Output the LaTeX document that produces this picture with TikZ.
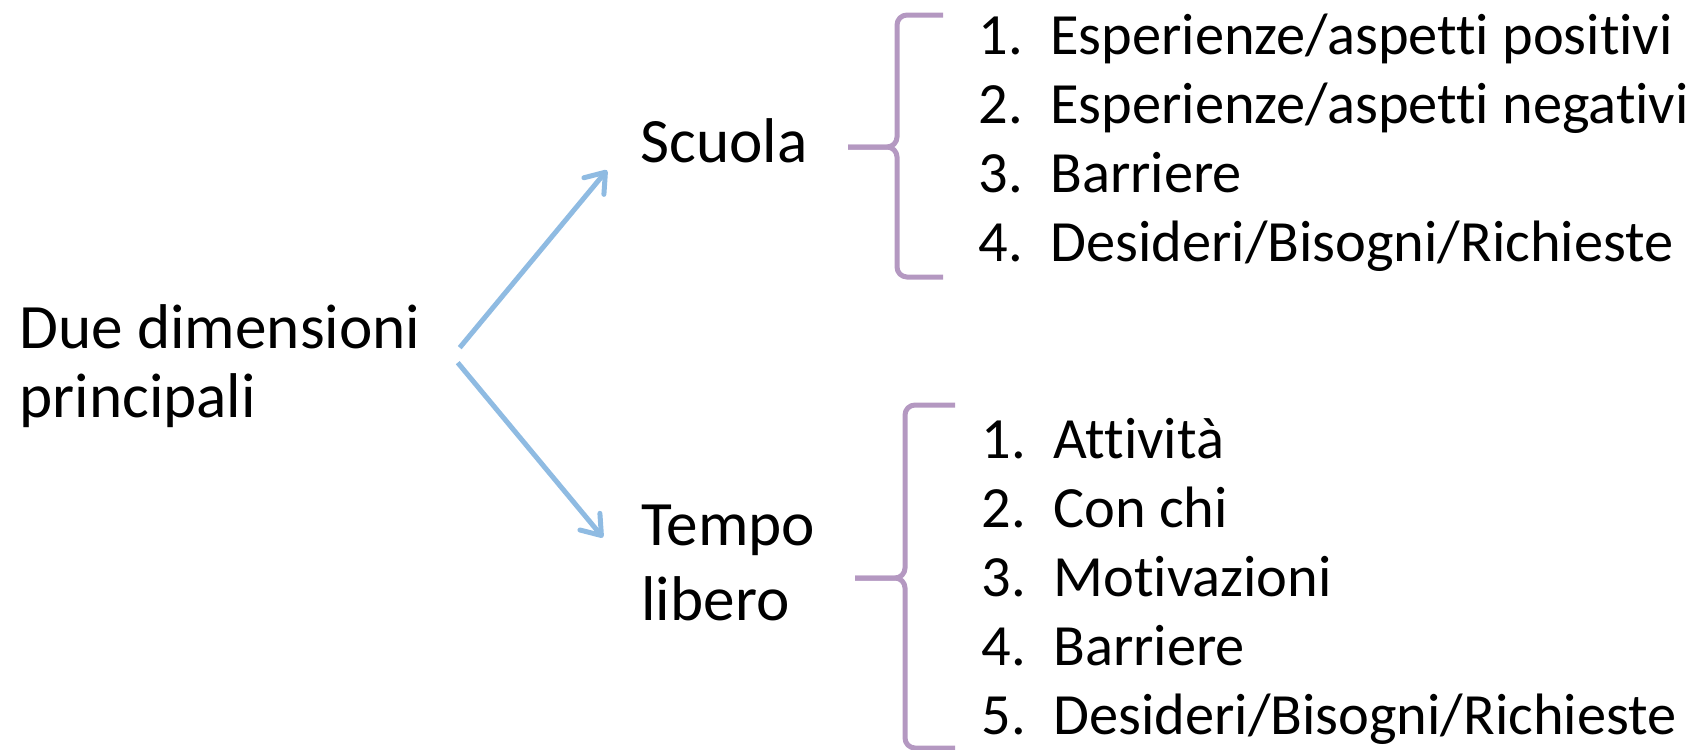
\documentclass[tikz,border=0pt]{standalone}
\usepackage{fontspec}
\setmainfont[Ligatures=NoCommon]{Carlito}
\usetikzlibrary{arrows.meta,calc}

\definecolor{arrowblue}{RGB}{143,187,226}
\definecolor{bracepurple}{RGB}{180,152,193}

\newcommand{\itemnum}[1]{\makebox[36pt][l]{#1}}

\begin{document}
\begin{tikzpicture}[x=0.5pt, y=-0.5pt,
  txt/.style={inner sep=0pt, align=left, anchor=base west, font=\fontsize{31.6}{34.5}\selectfont},
  listtxt/.style={txt, font=\fontsize{29.2}{34.5}\selectfont},
  arrowline/.style={draw=arrowblue, line width=2.5pt, -{Straight Barb[length=9pt,width=13pt,round]}},
  bracket/.style={draw=bracepurple, line width=2.5pt, rounded corners=5pt}]
\useasboundingbox (0, 0) rectangle (1694, 750);

% anchors sit on the last line
\node [txt] (main) at (19, 417) {Due dimensioni\\principali};
\node [txt] (scuola) at (640, 162) {Scuola};
\node [txt, font=\fontsize{31.6}{37.5}\selectfont] (tempo) at (641, 620) {Tempo\\libero};

\node [listtxt] (scuolalist) at (978, 261) {\itemnum{1.}Esperienze/aspetti positivi\\
  \itemnum{2.}Esperienze/aspetti negativi\\
  \itemnum{3.}Barriere\\
  \itemnum{4.}Desideri/Bisogni/Richieste};
\node [listtxt] (tempolist) at (981, 734) {\itemnum{1.}Attività\\
  \itemnum{2.}Con chi\\
  \itemnum{3.}Motivazioni\\
  \itemnum{4.}Barriere\\
  \itemnum{5.}Desideri/Bisogni/Richieste};

% arrows from the main text
\draw [arrowline] ([shift={(39,-18)}]main.east) -- ([shift={(-33,30)}]scuola.west);
\draw [arrowline] ([shift={(37,-3)}]main.east) -- ([shift={(-38,-25)}]tempo.west);

% braces
\draw [bracket] (943, 15) -- (897, 15) -- (897, 147) -- (848, 147);
\draw [bracket] (848, 147) -- (897, 147) -- (897, 277) -- (943, 277);
\draw [bracket] (955, 405) -- (905, 405) -- (905, 578) -- (855, 578);
\draw [bracket] (855, 578) -- (905, 578) -- (905, 748) -- (955, 748);
\end{tikzpicture}
\end{document}
